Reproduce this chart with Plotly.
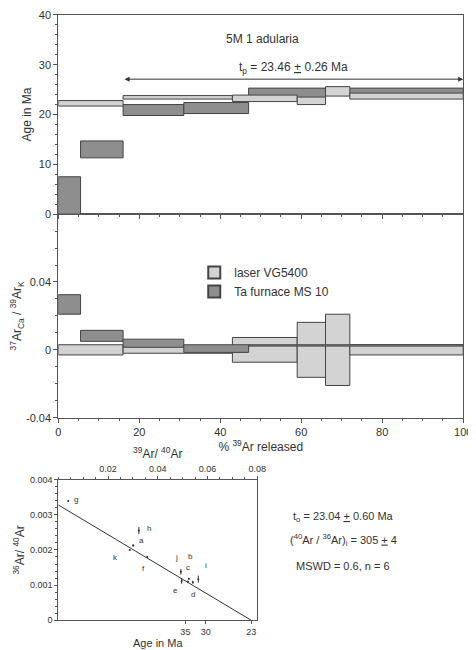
import plotly.graph_objects as go

# age spectrum: step edges (% 39Ar) and age ranges (Ma)
furnace_x0 = [0, 5.5, 16, 31, 47, 66]
furnace_x1 = [5.5, 16, 31, 47, 66, 100]
furnace_lo = [0, 11.3, 19.8, 20.2, 23.4, 23.9]
furnace_hi = [7.5, 14.7, 22.0, 22.4, 25.3, 25.3]

laser_x0 = [0, 16, 43, 59, 66, 72]
laser_x1 = [16, 43, 59, 66, 72, 100]
laser_lo = [21.7, 23.1, 22.6, 22.0, 23.7, 23.1]
laser_hi = [22.8, 23.8, 23.9, 23.5, 25.6, 24.3]

# Ca/K spectrum
furnace_ca_x0 = [0, 5.5, 16, 31, 47]
furnace_ca_x1 = [5.5, 16, 31, 47, 100]
furnace_ca_lo = [0.021, 0.005, 0.0015, -0.0015, 0.0022]
furnace_ca_hi = [0.0325, 0.0115, 0.0063, 0.003, 0.003]
laser_ca_lo = [-0.003, -0.002, -0.0073, -0.0162, -0.0210, -0.003]
laser_ca_hi = [0.003, 0.002, 0.0073, 0.0162, 0.0210, 0.003]

# isochron
iso_labels = ["g", "h", "a", "k", "f", "j", "e", "c", "b", "d", "i"]
iso_x = [0.0040, 0.0324, 0.0301, 0.0287, 0.0358, 0.0493, 0.0496, 0.0521, 0.0525, 0.0541, 0.0563]
iso_y = [0.00339, 0.00255, 0.00213, 0.00200, 0.00180, 0.00138, 0.00112, 0.00110, 0.00118, 0.00108, 0.00117]
iso_err = [0.00002, 0.00010, 0.00003, 0.00002, 0.00002, 0.00008, 0.00008, 0.00002, 0.00002, 0.00004, 0.00010]
iso_dx = [8, 10, 8, -14, -4, -4, -6, 0, 2, 0, 8]
iso_dy = [-2, -2, -5, 8, 12, -14, 10, -14, -22, 12, -14]
line_x = [0, 0.0776]
line_y = [0.00328, 0]
age_tick_pos = [0.0511, 0.0593, 0.0776]
age_tick_text = ["35", "30", "23"]

LIGHT = "#d3d3d3"
DARK = "#8e8e8e"
EDGE = "#444444"
INK = "#333333"
FONT = "Liberation Sans, Arial, sans-serif"
W, H = 476, 650

fig = go.Figure()
shapes = []


def boxes(x0s, x1s, los, his, color, xref, yref):
    for a, b, lo, hi in zip(x0s, x1s, los, his):
        shapes.append(dict(type="rect", xref=xref, yref=yref, x0=a, x1=b, y0=lo, y1=hi,
                           fillcolor=color, line=dict(color=EDGE, width=1)))


# the photographed page comes out slightly shifted / scaled; map target pixels to paper
def px_x(px):
    return min(1, max(0, (px - 10.7) / 0.975 / W))


def px_y(py):
    return min(1, max(0, 1 - (py - 12.5) / 0.985 / H))


boxes(furnace_x0, furnace_x1, furnace_lo, furnace_hi, DARK, "x", "y")
boxes(laser_x0, laser_x1, laser_lo, laser_hi, LIGHT, "x", "y")
boxes(laser_x0, laser_x1, laser_ca_lo, laser_ca_hi, LIGHT, "x2", "y2")
boxes(furnace_ca_x0, furnace_ca_x1, furnace_ca_lo, furnace_ca_hi, DARK, "x2", "y2")

# invisible traces to set axes
fig.add_trace(go.Scatter(x=[0, 100], y=[0, 40], mode="markers", marker=dict(opacity=0),
                         showlegend=False, xaxis="x", yaxis="y", hoverinfo="skip"))
fig.add_trace(go.Scatter(x=[0, 100], y=[-0.04, 0.08], mode="markers", marker=dict(opacity=0),
                         showlegend=False, xaxis="x2", yaxis="y2", hoverinfo="skip"))

# isochron
fig.add_trace(go.Scatter(x=line_x, y=line_y, mode="lines", line=dict(color=INK, width=1),
                         showlegend=False, xaxis="x3", yaxis="y3"))
fig.add_trace(go.Scatter(x=iso_x, y=iso_y, mode="markers",
                         marker=dict(size=2, color=INK),
                         error_y=dict(type="data", array=iso_err, color=INK, width=0, thickness=1),
                         showlegend=False, xaxis="x3", yaxis="y3"))
fig.add_trace(go.Scatter(x=[0, 0.08], y=[0, 0], mode="markers", marker=dict(opacity=0),
                         showlegend=False, xaxis="x4", yaxis="y3", hoverinfo="skip"))

ann = []
for lab, x, y, dx, dy in zip(iso_labels, iso_x, iso_y, iso_dx, iso_dy):
    ann.append(dict(x=x, y=y, xref="x3", yref="y3", text=lab, showarrow=False,
                    xshift=dx, yshift=-dy, font=dict(size=8, color=INK)))

ann += [
    dict(x=px_x(262), y=px_y(30), xref="paper", yref="paper", xanchor="center",
         text="5M 1 adularia", showarrow=False, font=dict(size=12, color=INK)),
    dict(x=58, y=29.4, xref="x", yref="y", text="t<sub>p</sub> = 23.46 <u>+</u> 0.26 Ma",
         showarrow=False, font=dict(size=12, color=INK)),
    dict(x=100, y=27.1, ax=16, ay=27.1, xref="x", yref="y", axref="x", ayref="y",
         showarrow=True, arrowhead=2, arrowside="end+start", arrowsize=1, arrowwidth=1,
         arrowcolor=INK, text=""),
    dict(x=px_x(343), y=px_y(527), xref="paper", yref="paper", xanchor="center",
         text="t<sub>o</sub> = 23.04 <u>+</u> 0.60 Ma", showarrow=False, font=dict(size=11, color=INK)),
    dict(x=px_x(343), y=px_y(551), xref="paper", yref="paper", xanchor="center",
         text="(<sup>40</sup>Ar / <sup>36</sup>Ar)<sub>i</sub> = 305 <u>+</u> 4",
         showarrow=False, font=dict(size=11, color=INK)),
    dict(x=px_x(343), y=px_y(575), xref="paper", yref="paper", xanchor="center",
         text="MSWD = 0.6, n = 6", showarrow=False, font=dict(size=11, color=INK)),
]

# legend (drawn inside middle panel)
fig.add_trace(go.Scatter(x=[None], y=[None], mode="markers", name="laser VG5400",
                         marker=dict(symbol="square", size=13, color=LIGHT, line=dict(color=EDGE, width=1))))
fig.add_trace(go.Scatter(x=[None], y=[None], mode="markers", name="Ta furnace MS 10",
                         marker=dict(symbol="square", size=13, color=DARK, line=dict(color=EDGE, width=1))))

base = dict(showline=True, linecolor="#555", mirror=True, ticks="outside", ticklen=4,
            tickcolor="#555", showgrid=False, zeroline=False, tickfont=dict(size=11, color=INK))


def minor(d):
    return dict(ticks="outside", ticklen=2, tickcolor="#555", dtick=d)


small = dict(base, ticklen=3, tickfont=dict(size=9, color=INK))
main_x = [px_x(58), px_x(463)]

fig.update_layout(
    width=W, height=H, margin=dict(l=0, r=0, t=0, b=0),
    paper_bgcolor="white", plot_bgcolor="white",
    font=dict(family=FONT, color=INK),
    shapes=shapes, annotations=ann,
    legend=dict(x=px_x(194), y=px_y(258), xanchor="left", yanchor="top", bgcolor="rgba(0,0,0,0)",
                font=dict(size=12, color=INK), itemsizing="constant", tracegroupgap=0),
    xaxis=dict(base, domain=main_x, anchor="y", range=[0, 100], dtick=20,
               showticklabels=False, minor=minor(5)),
    yaxis=dict(base, domain=[px_y(214), 0.997], anchor="x", range=[0, 40], dtick=10,
               title=dict(text="Age in Ma", font=dict(size=12), standoff=4), minor=minor(2)),
    xaxis2=dict(base, domain=main_x, anchor="y2", range=[0, 100], dtick=20,
                title=dict(text="% <sup>39</sup>Ar released", font=dict(size=12), standoff=2),
                minor=minor(5)),
    yaxis2=dict(base, domain=[px_y(418), px_y(214)], anchor="x2", range=[-0.04, 0.08],
                tickvals=[-0.04, 0, 0.04], ticktext=["-0.04", "0", "0.04"],
                title=dict(text="<sup>37</sup>Ar<sub>Ca</sub> / <sup>39</sup>Ar<sub>K</sub>",
                           font=dict(size=12), standoff=4),
                minor=minor(0.01)),
    xaxis3=dict(small, domain=[px_x(58), px_x(257)], anchor="y3", range=[0, 0.08], side="bottom",
                mirror=False, tickvals=age_tick_pos, ticktext=age_tick_text,
                title=dict(text="Age in Ma", font=dict(size=11), standoff=0)),
    xaxis4=dict(small, overlaying="x3", anchor="y3", side="top", range=[0, 0.08], mirror=False,
                tickvals=[0.02, 0.04, 0.06, 0.08], ticktext=["0.02", "0.04", "0.06", "0.08"],
                minor=minor(0.005),
                title=dict(text="<sup>39</sup>Ar/ <sup>40</sup>Ar", font=dict(size=12), standoff=2)),
    yaxis3=dict(small, domain=[px_y(621), px_y(480)], anchor="x3", range=[0, 0.004],
                tickvals=[0, 0.001, 0.002, 0.003, 0.004],
                ticktext=["0", "0.001", "0.002", "0.003", "0.004"],
                minor=minor(0.0002),
                title=dict(text="<sup>36</sup>Ar/ <sup>40</sup>Ar", font=dict(size=12), standoff=2)),
)

fig.write_html("out.html")
